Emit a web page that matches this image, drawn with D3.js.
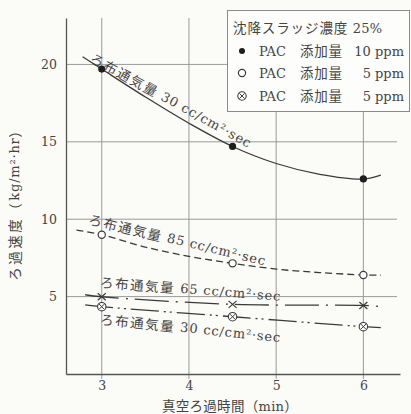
<!DOCTYPE html>
<html>
<head>
<meta charset="utf-8">
<script src="https://cdn.jsdelivr.net/npm/d3@7"></script>
<style>
  body { margin: 0; background: #fbfbf8; }
  svg { display: block; }
</style>
</head>
<body>
<svg id="chart" width="411" height="414"></svg>
<script>
// ---- data ----
const xTicks = [3, 4, 5, 6];
const yTicks = [5, 10, 15, 20];
const times = [3, 4.5, 6];

// measured points (kg/m²·hr)
const pac10Air30 = [19.7, 14.7, 12.6];   // filled dots
const pac5Air85  = [9.0, 7.15, 6.4];     // open circles
const pac5Air65  = [4.99, 4.5, 4.43];    // crosses
const pac5Air30  = [4.35, 3.7, 3.06];    // circled crosses

// hand-drawn curve traces
const trace1X = [2.78, 3, 3.5, 4, 4.5, 5, 5.5, 6, 6.2];
const trace1Y = [20.5, 19.7, 17.9, 16.2, 14.7, 13.6, 12.9, 12.6, 12.85];
const trace2X = [2.71, 3, 3.5, 4, 4.5, 5, 5.5, 6, 6.2];
const trace2Y = [9.3, 9.0, 8.2, 7.6, 7.15, 6.78, 6.55, 6.4, 6.38];
const trace3X = [2.81, 3, 4.5, 6, 6.2];
const trace3Y = [5.12, 4.99, 4.5, 4.43, 4.36];
const trace4X = [2.81, 3, 4.5, 6, 6.2];
const trace4Y = [4.47, 4.35, 3.7, 3.06, 3.0];

const curveLabels = [
  "ろ布通気量 30 cc/cm²·sec",
  "ろ布通気量 85 cc/cm²·sec",
  "ろ布通気量 65 cc/cm²·sec",
  "ろ布通気量 30 cc/cm²·sec"
];
const legendTitle = "沈降スラッジ濃度 25%";
const legendNames = ["PAC", "PAC", "PAC"];
const legendKinds = ["添加量", "添加量", "添加量"];
const legendDoses = ["10 ppm", "5 ppm", "5 ppm"];
const xTitle = "真空ろ過時間（min）";
const yTitle = "ろ過速度（kg/m²·hr）";

// ---- layout ----
const svg = d3.select("#chart");
const L = 66, R = 400, T = 18, B = 374;
const x = d3.scaleLinear().domain([2.59, 6.42]).range([L, R]);
const y = d3.scaleLinear().domain([0, 23]).range([B, T]);

const ink = "#3a3a3a";
const txt = "#444";
const gridCol = "#9a9a9a";
const latinFont = "'DejaVu Serif','Liberation Serif',serif";
const cjkFont = "'Noto Sans CJK JP','Noto Sans CJK SC',sans-serif";

// writes a string as alternating CJK / Latin runs, each with its own font and spacing
const cjkRun = /([\u3000-\u30ff\u4e00-\u9fff\uff00-\uffef]+)/;
function mixedText(sel, str, o) {
  str.split(cjkRun).filter(s => s.length).forEach(run => {
    const isCjk = cjkRun.test(run);
    sel.append("tspan").text(run)
      .attr("font-family", isCjk ? cjkFont : latinFont)
      .attr("font-size", isCjk ? o.cjkSize : o.latinSize)
      .attr("letter-spacing", isCjk ? o.cjkSpace : o.latinSpace);
  });
  return sel;
}

// grid
svg.append("g").selectAll("line").data(yTicks).join("line")
  .attr("x1", L).attr("x2", 397)
  .attr("y1", d => y(d)).attr("y2", d => y(d))
  .attr("stroke", gridCol).attr("stroke-width", 1);
svg.append("g").selectAll("line").data(xTicks).join("line")
  .attr("x1", d => x(d)).attr("x2", d => x(d))
  .attr("y1", T).attr("y2", B + 5)
  .attr("stroke", gridCol).attr("stroke-width", 1);

// axes
const xAxis = svg.append("g").attr("transform", `translate(0,${B})`)
  .call(d3.axisBottom(x).tickValues(xTicks).tickSize(0).tickPadding(7).tickFormat(d3.format("d")));
xAxis.select(".domain").attr("stroke", "#555").attr("stroke-width", 1.3);
const yAxis = svg.append("g").attr("transform", `translate(${L},0)`)
  .call(d3.axisLeft(y).tickValues(yTicks).tickSize(0).tickPadding(9).tickFormat(d3.format("d")));
yAxis.select(".domain").attr("stroke", "#555").attr("stroke-width", 1.3);
svg.selectAll(".tick text").attr("font-family", latinFont).attr("font-size", 12.5).attr("fill", txt);

// axis titles
mixedText(svg.append("text").attr("x", 230).attr("y", 410.5).attr("text-anchor", "middle").attr("fill", txt),
  xTitle, { cjkSize: 13.5, cjkSpace: 0.3, latinSize: 13, latinSpace: 0.3 });
mixedText(svg.append("text").attr("transform", "translate(14,201) rotate(-90)")
    .attr("text-anchor", "middle").attr("dominant-baseline", "central").attr("fill", txt),
  yTitle, { cjkSize: 13.5, cjkSpace: 2.5, latinSize: 13, latinSpace: 0.8 });

// curves
const line = d3.line().x(d => x(d[0])).y(d => y(d[1])).curve(d3.curveCatmullRom.alpha(0.5));
const traces = [
  { xs: trace1X, ys: trace1Y, dash: null },
  { xs: trace2X, ys: trace2Y, dash: "7,4" },
  { xs: trace3X, ys: trace3Y, dash: "34,7,2,7" },
  { xs: trace4X, ys: trace4Y, dash: "28,5,2,4,2,5" }
];
traces.forEach(t => {
  svg.append("path")
    .datum(t.xs.map((v, i) => [v, t.ys[i]]))
    .attr("d", line)
    .attr("fill", "none").attr("stroke", ink).attr("stroke-width", 1.3)
    .attr("stroke-dasharray", t.dash);
});

// markers
function marker(g, kind, cx, cy) {
  if (kind === "filled") {
    g.append("circle").attr("cx", cx).attr("cy", cy).attr("r", 3.6).attr("fill", "#1e1e1e");
  } else if (kind === "open") {
    g.append("circle").attr("cx", cx).attr("cy", cy).attr("r", 3.6)
      .attr("fill", "#fff").attr("stroke", ink).attr("stroke-width", 1.2);
  } else if (kind === "cross") {
    g.append("path").attr("d", `M${cx-4},${cy-3.5}L${cx+4},${cy+3.5}M${cx-4},${cy+3.5}L${cx+4},${cy-3.5}`)
      .attr("stroke", ink).attr("stroke-width", 1.2);
  } else {
    g.append("circle").attr("cx", cx).attr("cy", cy).attr("r", 4.2)
      .attr("fill", "#fff").attr("stroke", ink).attr("stroke-width", 1.1);
    g.append("path").attr("d", `M${cx-2.6},${cy-2.6}L${cx+2.6},${cy+2.6}M${cx-2.6},${cy+2.6}L${cx+2.6},${cy-2.6}`)
      .attr("stroke", ink).attr("stroke-width", 1);
  }
}
const mg = svg.append("g");
[[pac10Air30, "filled"], [pac5Air85, "open"], [pac5Air65, "cross"], [pac5Air30, "otimes"]]
  .forEach(([vals, kind]) => vals.forEach((v, i) => marker(mg, kind, x(times[i]), y(v))));

// curve labels
const labelPos = [
  { cx: 3.80, cy: 17.7, rot: 28.8 },
  { cx: 3.87, cy: 8.69, rot: 13.5 },
  { cx: 4.02, cy: 5.52, rot: 4.6 },
  { cx: 4.02, cy: 2.99, rot: 6.0 }
];
curveLabels.forEach((s, i) => {
  const p = labelPos[i];
  const t = svg.append("text")
    .attr("transform", `translate(${x(p.cx)},${y(p.cy)}) rotate(${p.rot})`)
    .attr("text-anchor", "middle").attr("dominant-baseline", "central").attr("fill", txt);
  mixedText(t, s, { cjkSize: 13.5, cjkSpace: 1.6, latinSize: 13, latinSpace: 0.85 });
});

// legend
const lg = svg.append("g");
lg.append("rect").attr("x", 227.5).attr("y", 10.5).attr("width", 182).attr("height", 101)
  .attr("fill", "#fdfdfb").attr("stroke", "#8a8a8a").attr("stroke-width", 1);
mixedText(lg.append("text").attr("x", 233).attr("y", 33).attr("fill", txt),
  legendTitle, { cjkSize: 13.5, cjkSpace: 0.9, latinSize: 13, latinSpace: 0.3 });
const rowY = [51, 73, 96];
const rowKinds = ["filled", "open", "otimes"];
rowY.forEach((ry, i) => {
  if (rowKinds[i] === "filled") lg.append("circle").attr("cx", 242).attr("cy", ry).attr("r", 3).attr("fill", "#1e1e1e");
  else marker(lg, rowKinds[i], 242, ry);
  lg.append("text").text(legendNames[i]).attr("x", 259).attr("y", ry + 5)
    .attr("font-family", latinFont).attr("font-size", 13).attr("fill", txt);
  mixedText(lg.append("text").attr("x", 300).attr("y", ry + 5).attr("fill", txt),
    legendKinds[i], { cjkSize: 13.5, cjkSpace: 0.8, latinSize: 13, latinSpace: 0 });
  lg.append("text").text(legendDoses[i]).attr("x", 404).attr("y", ry + 5)
    .attr("text-anchor", "end")
    .attr("font-family", latinFont).attr("font-size", 13).attr("fill", txt);
});
</script>
</body>
</html>
